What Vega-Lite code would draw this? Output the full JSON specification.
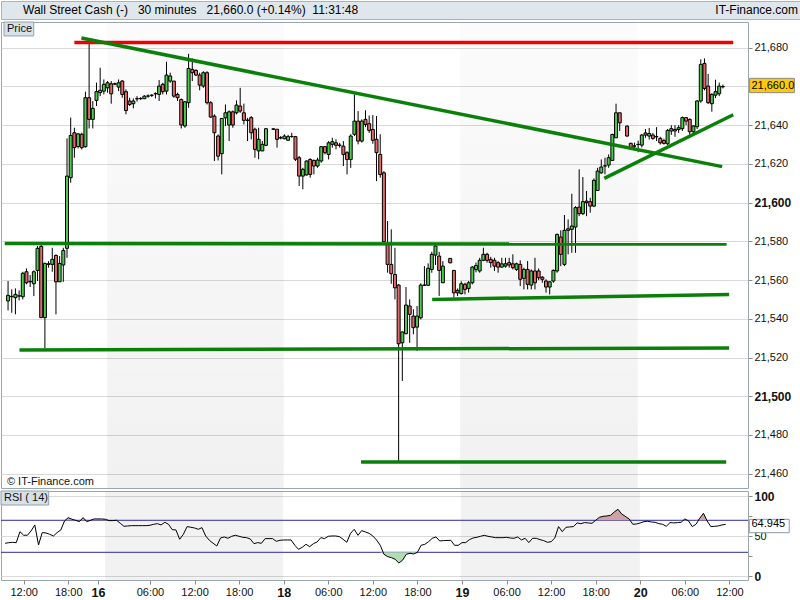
{
  "$schema": "https://vega.github.io/schema/vega-lite/v6.json",
  "padding": 0,
  "background": "white",
  "spacing": 3,
  "bounds": "flush",
  "resolve": {"scale": {"x": "independent", "y": "independent", "color": "independent", "fill": "independent"}},
  "config": {
    "font": "Liberation Sans",
    "view": {"stroke": "#9aa6b0"},
    "bar": {"continuousBandSize": 3},
    "axis": {"labelFont": "Liberation Sans", "labelColor": "#111111", "tickColor": "#8c8c8c", "domain": false, "title": null}
  },
  "datasets": {
    "bars": [
      {"bar":0,"open":21549.2,"high":21559.5,"low":21544.3,"close":21552.1,"rsi":41.3},
      {"bar":1,"open":21551.6,"high":21555.2,"low":21543.1,"close":21551.4,"rsi":42},
      {"bar":2,"open":21550.9,"high":21555.7,"low":21542.3,"close":21552.6,"rsi":42.5},
      {"bar":3,"open":21551.7,"high":21554.7,"low":21549.5,"close":21551.9,"rsi":42},
      {"bar":4,"open":21551.4,"high":21564.3,"low":21550.0,"close":21563.5,"rsi":55.8},
      {"bar":5,"open":21564.3,"high":21566.0,"low":21557.8,"close":21558.6,"rsi":51.3},
      {"bar":6,"open":21559.1,"high":21562.6,"low":21556.4,"close":21559.3,"rsi":51.3},
      {"bar":7,"open":21558.1,"high":21565.0,"low":21551.7,"close":21564.3,"rsi":56.7},
      {"bar":8,"open":21565.0,"high":21577.6,"low":21559.5,"close":21576.4,"rsi":64.2},
      {"bar":9,"open":21577.4,"high":21578.1,"low":21540.6,"close":21540.6,"rsi":39.2},
      {"bar":10,"open":21540.6,"high":21569.0,"low":21524.6,"close":21568.6,"rsi":54.6},
      {"bar":11,"open":21568.1,"high":21569.8,"low":21566.4,"close":21568.4,"rsi":54.2},
      {"bar":12,"open":21568.1,"high":21576.7,"low":21564.3,"close":21570.7,"rsi":52.5},
      {"bar":13,"open":21572.7,"high":21573.3,"low":21542.3,"close":21559.1,"rsi":50.4},
      {"bar":14,"open":21559.1,"high":21572.4,"low":21559.1,"close":21568.6,"rsi":54.6},
      {"bar":15,"open":21567.8,"high":21576.7,"low":21559.1,"close":21575.3,"rsi":57.9},
      {"bar":16,"open":21576.4,"high":21633.2,"low":21571.5,"close":21613.7,"rsi":69.2},
      {"bar":17,"open":21612.9,"high":21643.9,"low":21610.3,"close":21634.7,"rsi":73.3},
      {"bar":18,"open":21636.1,"high":21638.7,"low":21623.2,"close":21628.4,"rsi":71.3},
      {"bar":19,"open":21629.0,"high":21636.0,"low":21628.0,"close":21635.5,"rsi":70},
      {"bar":20,"open":21635.3,"high":21636.1,"low":21627.5,"close":21628.4,"rsi":68.3},
      {"bar":21,"open":21628.9,"high":21657.3,"low":21628.4,"close":21654.2,"rsi":73.3},
      {"bar":22,"open":21654.2,"high":21682.1,"low":21638.3,"close":21643.0,"rsi":68.3},
      {"bar":23,"open":21643.0,"high":21652.5,"low":21638.3,"close":21648.7,"rsi":70},
      {"bar":24,"open":21652.8,"high":21662.0,"low":21649.9,"close":21657.3,"rsi":71.7},
      {"bar":25,"open":21656.8,"high":21669.7,"low":21655.0,"close":21658.0,"rsi":71.7},
      {"bar":26,"open":21657.6,"high":21663.6,"low":21655.9,"close":21661.1,"rsi":71.7},
      {"bar":27,"open":21659.3,"high":21662.8,"low":21656.8,"close":21661.9,"rsi":71.3},
      {"bar":28,"open":21661.4,"high":21662.8,"low":21651.1,"close":21656.2,"rsi":69.6},
      {"bar":29,"open":21661.4,"high":21662.0,"low":21660.6,"close":21661.2,"rsi":69.6},
      {"bar":30,"open":21659.7,"high":21663.6,"low":21657.6,"close":21661.9,"rsi":70},
      {"bar":31,"open":21662.8,"high":21663.3,"low":21654.2,"close":21655.9,"rsi":66.3},
      {"bar":32,"open":21657.3,"high":21658.5,"low":21645.6,"close":21647.6,"rsi":62.5},
      {"bar":33,"open":21652.5,"high":21654.2,"low":21649.9,"close":21650.7,"rsi":62.9},
      {"bar":34,"open":21651.1,"high":21653.8,"low":21648.7,"close":21652.5,"rsi":63.3},
      {"bar":35,"open":21653.6,"high":21655.0,"low":21652.2,"close":21653.7,"rsi":63.3},
      {"bar":36,"open":21653.7,"high":21654.5,"low":21653.0,"close":21653.8,"rsi":63.3},
      {"bar":37,"open":21653.7,"high":21655.5,"low":21653.5,"close":21655.0,"rsi":63.3},
      {"bar":38,"open":21655.0,"high":21655.9,"low":21654.2,"close":21655.1,"rsi":63.3},
      {"bar":39,"open":21655.4,"high":21656.0,"low":21654.6,"close":21655.5,"rsi":63.8},
      {"bar":40,"open":21656.2,"high":21657.0,"low":21653.8,"close":21656.3,"rsi":65},
      {"bar":41,"open":21655.9,"high":21663.3,"low":21652.5,"close":21660.2,"rsi":65.8},
      {"bar":42,"open":21661.1,"high":21661.9,"low":21655.9,"close":21657.3,"rsi":64.2},
      {"bar":43,"open":21657.6,"high":21672.8,"low":21655.9,"close":21665.9,"rsi":67.5},
      {"bar":44,"open":21662.8,"high":21667.1,"low":21661.9,"close":21665.4,"rsi":65},
      {"bar":45,"open":21662.8,"high":21662.8,"low":21654.2,"close":21655.0,"rsi":58.3},
      {"bar":46,"open":21655.9,"high":21656.8,"low":21652.5,"close":21654.2,"rsi":57.9},
      {"bar":47,"open":21653.3,"high":21653.7,"low":21638.3,"close":21640.1,"rsi":46.3},
      {"bar":48,"open":21639.6,"high":21652.5,"low":21638.7,"close":21652.1,"rsi":52.5},
      {"bar":49,"open":21651.6,"high":21676.9,"low":21649.0,"close":21669.3,"rsi":62.1},
      {"bar":50,"open":21668.8,"high":21674.5,"low":21662.8,"close":21667.1,"rsi":61.3},
      {"bar":51,"open":21668.3,"high":21668.8,"low":21665.4,"close":21665.9,"rsi":60.4},
      {"bar":52,"open":21665.9,"high":21667.1,"low":21658.0,"close":21660.7,"rsi":58.75},
      {"bar":53,"open":21660.2,"high":21667.9,"low":21659.3,"close":21667.1,"rsi":60.8},
      {"bar":54,"open":21667.1,"high":21667.9,"low":21650.7,"close":21651.6,"rsi":50.4},
      {"bar":55,"open":21651.6,"high":21652.4,"low":21643.8,"close":21644.2,"rsi":45},
      {"bar":56,"open":21644.7,"high":21645.6,"low":21621.5,"close":21636.1,"rsi":41.3},
      {"bar":57,"open":21634.4,"high":21635.2,"low":21621.8,"close":21624.0,"rsi":37.9},
      {"bar":58,"open":21625.3,"high":21643.5,"low":21614.6,"close":21643.5,"rsi":47.9},
      {"bar":59,"open":21643.8,"high":21650.7,"low":21639.5,"close":21646.4,"rsi":49.2},
      {"bar":60,"open":21640.1,"high":21647.6,"low":21631.8,"close":21646.9,"rsi":47.5},
      {"bar":61,"open":21646.9,"high":21647.6,"low":21638.7,"close":21640.1,"rsi":50},
      {"bar":62,"open":21646.4,"high":21652.8,"low":21645.6,"close":21650.4,"rsi":51.3},
      {"bar":63,"open":21649.9,"high":21659.3,"low":21646.4,"close":21647.3,"rsi":50},
      {"bar":64,"open":21646.4,"high":21651.1,"low":21640.4,"close":21642.5,"rsi":48.75},
      {"bar":65,"open":21642.5,"high":21643.8,"low":21631.8,"close":21642.6,"rsi":48.3},
      {"bar":66,"open":21643.9,"high":21644.7,"low":21632.7,"close":21636.1,"rsi":46.7},
      {"bar":67,"open":21637.9,"high":21638.7,"low":21623.2,"close":21627.5,"rsi":40.8},
      {"bar":68,"open":21626.7,"high":21638.7,"low":21622.4,"close":21632.7,"rsi":42.1},
      {"bar":69,"open":21626.7,"high":21631.8,"low":21626.7,"close":21630.1,"rsi":41.25},
      {"bar":70,"open":21629.6,"high":21638.2,"low":21629.2,"close":21638.2,"rsi":47.1},
      {"bar":72,"open":21638.1,"high":21638.5,"low":21637.6,"close":21637.9,"rsi":47.1},
      {"bar":73,"open":21637.9,"high":21637.9,"low":21628.4,"close":21632.7,"rsi":43.75},
      {"bar":74,"open":21633.5,"high":21634.4,"low":21632.7,"close":21633.4,"rsi":45},
      {"bar":75,"open":21633.0,"high":21635.3,"low":21632.7,"close":21634.4,"rsi":45.4},
      {"bar":76,"open":21632.2,"high":21635.0,"low":21632.0,"close":21634.1,"rsi":45.4},
      {"bar":77,"open":21634.1,"high":21636.1,"low":21633.5,"close":21634.2,"rsi":45.4},
      {"bar":78,"open":21634.1,"high":21634.4,"low":21621.5,"close":21622.4,"rsi":38.75},
      {"bar":79,"open":21623.2,"high":21624.1,"low":21608.6,"close":21613.7,"rsi":33.75},
      {"bar":80,"open":21613.7,"high":21618.0,"low":21606.9,"close":21617.2,"rsi":36.25},
      {"bar":81,"open":21614.3,"high":21621.8,"low":21614.0,"close":21621.5,"rsi":40},
      {"bar":82,"open":21622.3,"high":21622.9,"low":21612.9,"close":21614.6,"rsi":37.1},
      {"bar":83,"open":21621.8,"high":21622.3,"low":21614.6,"close":21618.9,"rsi":40.8},
      {"bar":84,"open":21618.9,"high":21623.2,"low":21618.0,"close":21622.0,"rsi":42.9},
      {"bar":85,"open":21621.5,"high":21629.2,"low":21620.6,"close":21628.9,"rsi":48.3},
      {"bar":86,"open":21628.9,"high":21629.2,"low":21624.9,"close":21625.8,"rsi":47.1},
      {"bar":87,"open":21624.9,"high":21631.8,"low":21622.3,"close":21630.9,"rsi":50},
      {"bar":88,"open":21630.1,"high":21633.5,"low":21628.4,"close":21631.5,"rsi":50.4},
      {"bar":89,"open":21630.9,"high":21632.7,"low":21627.5,"close":21629.6,"rsi":50.4},
      {"bar":90,"open":21629.6,"high":21630.9,"low":21628.4,"close":21629.7,"rsi":49.6},
      {"bar":91,"open":21629.2,"high":21631.8,"low":21618.9,"close":21624.9,"rsi":46.25},
      {"bar":92,"open":21625.8,"high":21626.6,"low":21614.6,"close":21622.3,"rsi":42.5},
      {"bar":93,"open":21622.3,"high":21635.3,"low":21618.0,"close":21634.4,"rsi":53.75},
      {"bar":94,"open":21635.3,"high":21655.9,"low":21634.4,"close":21642.1,"rsi":58.75},
      {"bar":95,"open":21642.1,"high":21647.3,"low":21630.1,"close":21631.8,"rsi":51.25},
      {"bar":96,"open":21631.8,"high":21643.0,"low":21631.0,"close":21642.1,"rsi":57.1},
      {"bar":97,"open":21643.0,"high":21647.7,"low":21639.0,"close":21640.4,"rsi":55.4},
      {"bar":98,"open":21640.8,"high":21645.0,"low":21636.0,"close":21637.3,"rsi":53.75},
      {"bar":99,"open":21637.8,"high":21645.2,"low":21630.4,"close":21632.2,"rsi":50.4},
      {"bar":100,"open":21632.7,"high":21644.7,"low":21611.1,"close":21625.8,"rsi":45.4},
      {"bar":101,"open":21624.9,"high":21635.3,"low":21612.9,"close":21614.5,"rsi":38.75},
      {"bar":102,"open":21615.4,"high":21616.3,"low":21579.5,"close":21579.8,"rsi":27.5},
      {"bar":103,"open":21578.8,"high":21590.5,"low":21563.8,"close":21568.1,"rsi":24.6},
      {"bar":104,"open":21568.1,"high":21586.2,"low":21558.1,"close":21563.3,"rsi":23.3},
      {"bar":105,"open":21562.9,"high":21576.7,"low":21550.0,"close":21556.0,"rsi":21.25},
      {"bar":106,"open":21557.4,"high":21558.0,"low":21465.6,"close":21527.1,"rsi":16.7},
      {"bar":107,"open":21527.6,"high":21533.5,"low":21507.9,"close":21533.2,"rsi":20},
      {"bar":108,"open":21532.3,"high":21556.4,"low":21532.0,"close":21547.1,"rsi":27.5},
      {"bar":109,"open":21546.6,"high":21550.0,"low":21527.6,"close":21542.3,"rsi":28.75},
      {"bar":110,"open":21541.4,"high":21544.9,"low":21532.0,"close":21535.4,"rsi":27.9},
      {"bar":111,"open":21535.7,"high":21546.6,"low":21523.4,"close":21541.4,"rsi":30},
      {"bar":112,"open":21540.5,"high":21558.3,"low":21539.7,"close":21557.4,"rsi":38.75},
      {"bar":113,"open":21557.3,"high":21567.2,"low":21556.9,"close":21557.4,"rsi":40},
      {"bar":114,"open":21557.3,"high":21568.6,"low":21556.9,"close":21566.1,"rsi":43.3},
      {"bar":115,"open":21565.5,"high":21574.6,"low":21563.8,"close":21573.3,"rsi":47.5},
      {"bar":116,"open":21572.9,"high":21578.1,"low":21567.8,"close":21577.6,"rsi":49.2},
      {"bar":117,"open":21572.4,"high":21574.6,"low":21551.8,"close":21565.0,"rsi":44.2},
      {"bar":118,"open":21558.6,"high":21569.8,"low":21558.6,"close":21567.2,"rsi":44.6},
      {"bar":120,"open":21571.2,"high":21571.4,"low":21568.7,"close":21568.9,"rsi":45},
      {"bar":121,"open":21565.0,"high":21565.0,"low":21551.0,"close":21553.4,"rsi":38.75},
      {"bar":122,"open":21554.7,"high":21555.7,"low":21551.7,"close":21553.4,"rsi":38.75},
      {"bar":123,"open":21553.0,"high":21559.4,"low":21552.6,"close":21558.1,"rsi":42.1},
      {"bar":124,"open":21557.8,"high":21558.6,"low":21552.6,"close":21555.2,"rsi":42.1},
      {"bar":125,"open":21555.7,"high":21559.5,"low":21553.5,"close":21558.6,"rsi":45.8},
      {"bar":126,"open":21558.6,"high":21567.2,"low":21557.8,"close":21566.7,"rsi":47.9},
      {"bar":127,"open":21565.5,"high":21569.0,"low":21564.0,"close":21567.5,"rsi":48.75},
      {"bar":128,"open":21564.7,"high":21571.5,"low":21563.8,"close":21570.2,"rsi":50},
      {"bar":129,"open":21570.2,"high":21576.7,"low":21569.8,"close":21573.3,"rsi":51.25},
      {"bar":130,"open":21573.3,"high":21574.1,"low":21569.0,"close":21570.2,"rsi":50},
      {"bar":131,"open":21570.7,"high":21572.0,"low":21566.4,"close":21569.0,"rsi":49.2},
      {"bar":132,"open":21570.2,"high":21571.5,"low":21564.7,"close":21567.2,"rsi":48.3},
      {"bar":133,"open":21569.0,"high":21569.8,"low":21563.8,"close":21566.7,"rsi":48.3},
      {"bar":134,"open":21566.7,"high":21571.5,"low":21566.4,"close":21568.4,"rsi":48.3},
      {"bar":135,"open":21567.2,"high":21571.5,"low":21566.4,"close":21568.4,"rsi":48.75},
      {"bar":136,"open":21569.0,"high":21571.5,"low":21566.4,"close":21567.8,"rsi":47.9},
      {"bar":137,"open":21568.4,"high":21573.3,"low":21565.5,"close":21566.4,"rsi":47.5},
      {"bar":138,"open":21565.5,"high":21569.0,"low":21564.7,"close":21568.4,"rsi":49.2},
      {"bar":139,"open":21568.1,"high":21570.2,"low":21556.9,"close":21560.4,"rsi":45.4},
      {"bar":140,"open":21560.9,"high":21566.4,"low":21555.2,"close":21565.5,"rsi":47.5},
      {"bar":141,"open":21565.5,"high":21569.8,"low":21555.2,"close":21557.8,"rsi":42.1},
      {"bar":142,"open":21557.4,"high":21565.5,"low":21555.2,"close":21564.7,"rsi":47.5},
      {"bar":143,"open":21564.7,"high":21571.5,"low":21555.2,"close":21558.6,"rsi":47.5},
      {"bar":144,"open":21564.7,"high":21566.0,"low":21560.0,"close":21561.2,"rsi":45.8},
      {"bar":145,"open":21561.5,"high":21562.0,"low":21558.6,"close":21560.4,"rsi":44.6},
      {"bar":146,"open":21559.5,"high":21560.4,"low":21553.5,"close":21556.4,"rsi":42.5},
      {"bar":147,"open":21556.4,"high":21559.5,"low":21552.6,"close":21559.1,"rsi":43.3},
      {"bar":148,"open":21559.5,"high":21565.5,"low":21558.6,"close":21565.0,"rsi":47.9},
      {"bar":149,"open":21564.7,"high":21584.0,"low":21563.8,"close":21583.6,"rsi":62.1},
      {"bar":150,"open":21582.2,"high":21585.7,"low":21567.2,"close":21573.3,"rsi":55.8},
      {"bar":151,"open":21568.1,"high":21593.6,"low":21567.2,"close":21585.7,"rsi":61.25},
      {"bar":152,"open":21585.7,"high":21591.3,"low":21573.3,"close":21586.5,"rsi":61.7},
      {"bar":153,"open":21586.2,"high":21604.6,"low":21574.1,"close":21587.9,"rsi":62.1},
      {"bar":154,"open":21587.4,"high":21598.2,"low":21574.1,"close":21597.4,"rsi":66.7},
      {"bar":155,"open":21597.7,"high":21617.2,"low":21593.0,"close":21594.3,"rsi":65.8},
      {"bar":156,"open":21594.3,"high":21613.2,"low":21593.6,"close":21600.5,"rsi":67.1},
      {"bar":157,"open":21600.0,"high":21606.0,"low":21593.0,"close":21600.8,"rsi":66.7},
      {"bar":158,"open":21600.5,"high":21602.5,"low":21594.8,"close":21598.2,"rsi":66.25},
      {"bar":159,"open":21598.2,"high":21612.5,"low":21597.7,"close":21611.5,"rsi":70},
      {"bar":160,"open":21606.3,"high":21618.0,"low":21606.0,"close":21616.3,"rsi":73.75},
      {"bar":161,"open":21615.4,"high":21622.3,"low":21614.9,"close":21618.4,"rsi":75},
      {"bar":162,"open":21618.9,"high":21623.2,"low":21614.6,"close":21619.0,"rsi":75.4},
      {"bar":163,"open":21619.4,"high":21624.9,"low":21618.0,"close":21623.2,"rsi":76.25},
      {"bar":164,"open":21621.8,"high":21635.6,"low":21621.5,"close":21635.2,"rsi":80.4},
      {"bar":165,"open":21633.5,"high":21651.1,"low":21633.5,"close":21646.4,"rsi":83.75},
      {"bar":166,"open":21646.4,"high":21646.4,"low":21637.0,"close":21641.2,"rsi":77.9},
      {"bar":168,"open":21639.5,"high":21640.0,"low":21634.0,"close":21634.4,"rsi":71.7},
      {"bar":169,"open":21630.6,"high":21631.0,"low":21628.0,"close":21628.3,"rsi":65},
      {"bar":170,"open":21629.2,"high":21631.0,"low":21627.0,"close":21629.3,"rsi":65.4},
      {"bar":171,"open":21630.0,"high":21632.0,"low":21626.0,"close":21630.1,"rsi":66.7},
      {"bar":172,"open":21629.7,"high":21635.5,"low":21628.5,"close":21634.9,"rsi":68.3},
      {"bar":173,"open":21636.0,"high":21638.0,"low":21633.5,"close":21634.9,"rsi":68.75},
      {"bar":174,"open":21634.4,"high":21638.6,"low":21632.6,"close":21635.7,"rsi":67.9},
      {"bar":175,"open":21634.9,"high":21636.0,"low":21632.5,"close":21633.2,"rsi":67.5},
      {"bar":176,"open":21634.0,"high":21639.0,"low":21631.8,"close":21634.1,"rsi":65.8},
      {"bar":177,"open":21633.2,"high":21634.0,"low":21630.0,"close":21630.9,"rsi":65},
      {"bar":178,"open":21632.1,"high":21633.0,"low":21630.0,"close":21630.6,"rsi":62.5},
      {"bar":179,"open":21630.4,"high":21638.0,"low":21629.8,"close":21637.3,"rsi":67.1},
      {"bar":180,"open":21637.0,"high":21640.0,"low":21635.0,"close":21638.2,"rsi":66.7},
      {"bar":181,"open":21637.8,"high":21640.0,"low":21634.0,"close":21637.0,"rsi":67.1},
      {"bar":182,"open":21637.8,"high":21640.0,"low":21636.0,"close":21638.7,"rsi":67.5},
      {"bar":183,"open":21638.2,"high":21644.5,"low":21637.0,"close":21643.9,"rsi":71.7},
      {"bar":184,"open":21643.9,"high":21644.0,"low":21640.0,"close":21642.1,"rsi":69.2},
      {"bar":185,"open":21643.0,"high":21643.5,"low":21635.0,"close":21636.6,"rsi":62.1},
      {"bar":186,"open":21636.6,"high":21640.0,"low":21636.0,"close":21639.6,"rsi":65},
      {"bar":187,"open":21639.2,"high":21653.0,"low":21638.0,"close":21652.5,"rsi":72.5},
      {"bar":188,"open":21652.5,"high":21674.0,"low":21651.6,"close":21671.4,"rsi":78.75},
      {"bar":189,"open":21671.9,"high":21674.5,"low":21658.0,"close":21659.0,"rsi":69.2},
      {"bar":190,"open":21660.2,"high":21666.5,"low":21651.0,"close":21651.6,"rsi":62.1},
      {"bar":191,"open":21651.1,"high":21656.5,"low":21647.0,"close":21655.9,"rsi":62.5},
      {"bar":192,"open":21655.5,"high":21663.5,"low":21654.0,"close":21657.3,"rsi":62.9},
      {"bar":193,"open":21656.2,"high":21662.0,"low":21655.0,"close":21660.2,"rsi":64.2},
      {"bar":194,"open":21659.8,"high":21661.0,"low":21659.0,"close":21660.0,"rsi":64.945}
    ],
    "sessions": [
      {"day":"16","start":26.9,"end":74.8},
      {"day":"19","start":122.7,"end":170.9}
    ],
    "trendlines": [
      {"kind":"resistance","from_bar":18.0,"from_price":21682.7,"to_bar":196.8,"to_price":21682.7},
      {"kind":"trend","from_bar":19.9,"from_price":21685.0,"to_bar":193.8,"to_price":21618.6},
      {"kind":"trend","from_bar":-0.9,"from_price":21578.9,"to_bar":195.0,"to_price":21578.6},
      {"kind":"trend","from_bar":3.1,"from_price":21523.9,"to_bar":195.7,"to_price":21524.9},
      {"kind":"trend","from_bar":115.1,"from_price":21550.0,"to_bar":195.7,"to_price":21552.6},
      {"kind":"trend","from_bar":95.8,"from_price":21466.0,"to_bar":194.9,"to_price":21466.0},
      {"kind":"trend","from_bar":161.8,"from_price":21612.5,"to_bar":196.8,"to_price":21645.4}
    ],
    "levels": [{"level":70},{"level":30}],
    "labels": [{"last_close":21660.0,"last_rsi":64.945}]
  },
  "vconcat": [
    {
      "width": 800,
      "height": 18,
      "view": {"fill": "#dfe6ec", "stroke": "#a9b5be"},
      "data": {"values": [{"label": "Wall Street Cash (-)\u00a0\u00a0 30 minutes\u00a0\u00a0 21,660.0 (+0.14%)\u00a0 11:31:48", "site": "IT-Finance.com"}]},
      "layer": [
        {
          "mark": {"type": "text", "align": "left", "baseline": "middle", "dx": 22, "fontSize": 12, "color": "#000000"},
          "encoding": {
            "x": {"datum": 0, "type": "quantitative", "scale": {"domain": [0, 1]}, "axis": null},
            "text": {"field": "label"}
          }
        },
        {
          "mark": {"type": "text", "align": "right", "baseline": "middle", "dx": -3, "fontSize": 12, "color": "#000000"},
          "encoding": {
            "x": {"datum": 1, "type": "quantitative", "axis": null},
            "text": {"field": "site"}
          }
        }
      ]
    },
    {
      "width": 747,
      "height": 466,
      "view": {"fill": "white", "stroke": "#9aa6b0"},
      "layer": [
        {
          "data": {"name": "sessions"},
          "mark": {"type": "rect", "fill": {"gradient": "linear", "x1": 0, "y1": 0, "x2": 0, "y2": 1, "stops": [{"offset": 0, "color": "rgba(0,0,0,0.015)"}, {"offset": 1, "color": "rgba(0,0,0,0.055)"}]}},
          "encoding": {
            "x": {"field": "start", "type": "quantitative", "scale": {"domain": [-1.1, 200], "nice": false, "zero": false}, "axis": null},
            "x2": {"field": "end"}
          }
        },
        {
          "data": {"name": "bars"},
          "mark": {"type": "rule", "color": "#000000", "strokeWidth": 1},
          "encoding": {
            "x": {"field": "bar", "type": "quantitative", "axis": null},
            "y": {
              "field": "low", "type": "quantitative",
              "scale": {"domain": [21452.6, 21693.3], "nice": false, "zero": false},
              "axis": {
                "orient": "right",
                "values": [21460,21470,21480,21490,21500,21510,21520,21530,21540,21550,21560,21570,21580,21590,21600,21610,21620,21630,21640,21650,21660,21670,21680,21690],
                "labelExpr": "datum.value % 20 == 0 && datum.value != 21660 ? format(datum.value, ',') : ''",
                "labelFontSize": {"condition": {"test": "datum.value % 100 == 0", "value": 12}, "value": 11},
                "labelFontWeight": {"condition": {"test": "datum.value % 100 == 0", "value": "bold"}, "value": "normal"},
                "grid": true,
                "gridColor": "#d9d9d9",
                "gridOpacity": {"condition": {"test": "datum.value % 20 != 0", "value": 0}, "value": 1},
                "tickSize": 4,
                "labelPadding": 2,
                "labelOverlap": false
              }
            },
            "y2": {"field": "high"}
          }
        },
        {
          "data": {"name": "bars"},
          "mark": {"type": "bar", "stroke": "#000000", "strokeWidth": 1},
          "encoding": {
            "x": {"field": "bar", "type": "quantitative", "axis": null},
            "y": {"field": "open", "type": "quantitative"},
            "y2": {"field": "close"},
            "fill": {"condition": {"test": "datum.close >= datum.open", "value": "#4fca4f"}, "value": "#e26a6a"}
          }
        },
        {
          "data": {"name": "trendlines"},
          "mark": {"type": "rule", "strokeWidth": 3.5, "strokeCap": "butt"},
          "encoding": {
            "x": {"field": "from_bar", "type": "quantitative", "axis": null},
            "x2": {"field": "to_bar"},
            "y": {"field": "from_price", "type": "quantitative"},
            "y2": {"field": "to_price"},
            "color": {"field": "kind", "type": "nominal", "scale": {"domain": ["resistance", "trend"], "range": ["#f20000", "#0a800a"]}, "legend": null}
          }
        },
        {
          "data": {"name": "labels"},
          "mark": {"type": "rect", "fill": "#d7e0e7", "stroke": "#93a3ae", "strokeWidth": 1, "clip": false},
          "encoding": {
            "x": {"datum": -1.1, "type": "quantitative", "axis": null},
            "x2": {"datum": 6.98},
            "y": {"datum": 21693.3, "type": "quantitative"},
            "y2": {"datum": 21686.1}
          }
        },
        {
          "data": {"name": "labels"},
          "mark": {"type": "text", "align": "left", "baseline": "middle", "fontSize": 11, "color": "#111111", "clip": false},
          "encoding": {
            "x": {"datum": -0.3, "type": "quantitative", "axis": null},
            "y": {"datum": 21689.7, "type": "quantitative"},
            "text": {"value": "Price"}
          }
        },
        {
          "data": {"name": "labels"},
          "mark": {"type": "text", "align": "left", "baseline": "middle", "fontSize": 11, "color": "#111111", "clip": false},
          "encoding": {
            "x": {"datum": -0.3, "type": "quantitative", "axis": null},
            "y": {"datum": 21455.7, "type": "quantitative"},
            "text": {"value": "\u00a9 IT-Finance.com"}
          }
        },
        {
          "data": {"name": "labels"},
          "mark": {"type": "rect", "fill": "#fdca0a", "stroke": "#8a8a8a", "strokeWidth": 1, "clip": false},
          "encoding": {
            "x": {"datum": 201.26, "type": "quantitative", "axis": null},
            "x2": {"datum": 213.4},
            "y": {"datum": 21664.2, "type": "quantitative"},
            "y2": {"datum": 21656.8}
          }
        },
        {
          "data": {"name": "labels"},
          "mark": {"type": "text", "align": "left", "baseline": "middle", "fontSize": 11, "color": "#000000", "clip": false},
          "encoding": {
            "x": {"datum": 201.75, "type": "quantitative", "axis": null},
            "y": {"field": "last_close", "type": "quantitative"},
            "text": {"field": "last_close", "type": "quantitative", "format": ",.1f"}
          }
        }
      ]
    },
    {
      "width": 747,
      "height": 89,
      "view": {"fill": "white", "stroke": "#9aa6b0"},
      "resolve": {"scale": {"y": "independent"}},
      "layer": [
        {
          "data": {"name": "sessions"},
          "mark": {"type": "rect", "fill": "rgba(0,0,0,0.05)"},
          "encoding": {
            "x": {"field": "start", "type": "quantitative", "scale": {"domain": [-1.1, 200], "nice": false, "zero": false}},
            "x2": {"field": "end"}
          }
        },
        {
          "data": {"name": "levels"},
          "mark": {"type": "rule", "color": "#2a2aa6", "strokeWidth": 1},
          "encoding": {
            "y": {
              "field": "level", "type": "quantitative",
              "scale": {"domain": [-4.6, 106.6], "nice": false, "zero": false},
              "axis": {
                "orient": "right",
                "values": [0, 25, 50, 75, 100],
                "labelExpr": "datum.value % 50 == 0 ? datum.label : ''",
                "labelFontSize": {"condition": {"test": "datum.value != 50", "value": 12}, "value": 11},
                "labelFontWeight": {"condition": {"test": "datum.value != 50", "value": "bold"}, "value": "normal"},
                "grid": true,
                "gridColor": "#d9d9d9",
                "gridOpacity": {"condition": {"test": "datum.value % 50 != 0", "value": 0}, "value": 1},
                "tickSize": 4,
                "labelPadding": 2,
                "labelOverlap": false
              }
            }
          }
        },
        {
          "data": {"name": "bars"},
          "mark": {"type": "area", "color": "#cfa3a3", "opacity": 1},
          "encoding": {
            "x": {"field": "bar", "type": "quantitative"},
            "y": {"field": "rsi", "type": "quantitative", "scale": {"domain": [70, 106.6], "range": [29.28, 0], "clamp": true, "nice": false, "zero": false}, "axis": null},
            "y2": {"datum": 70}
          }
        },
        {
          "data": {"name": "bars"},
          "mark": {"type": "area", "color": "#b2dcb2", "opacity": 1},
          "encoding": {
            "x": {"field": "bar", "type": "quantitative"},
            "y": {"field": "rsi", "type": "quantitative", "scale": {"domain": [-4.6, 30], "range": [89, 61.28], "clamp": true, "nice": false, "zero": false}, "axis": null},
            "y2": {"datum": 30}
          }
        },
        {
          "data": {"name": "bars"},
          "mark": {"type": "line", "color": "#000000", "strokeWidth": 1},
          "encoding": {
            "x": {
              "field": "bar", "type": "quantitative",
              "axis": {
                "orient": "bottom",
                "values": [5,17,25,39,51,63,75,87,99,111,123,135,147,159,171,183,195],
                "labelExpr": "['12:00','18:00','16','06:00','12:00','18:00','18','06:00','12:00','18:00','19','06:00','12:00','18:00','20','06:00','12:00'][indexof([5,17,25,39,51,63,75,87,99,111,123,135,147,159,171,183,195], datum.value)]",
                "labelFontSize": {"condition": {"test": "indexof([25,75,123,171], datum.value) >= 0", "value": 12.5}, "value": 11},
                "labelFontWeight": {"condition": {"test": "indexof([25,75,123,171], datum.value) >= 0", "value": "bold"}, "value": "normal"},
                "grid": false,
                "tickSize": 4,
                "labelPadding": 2,
                "labelOverlap": false,
                "labelFlush": false
              }
            },
            "y": {"field": "rsi", "type": "quantitative", "scale": {"domain": [-4.6, 106.6], "nice": false, "zero": false}, "axis": null}
          }
        },
        {
          "data": {"name": "labels"},
          "mark": {"type": "rect", "fill": "#d7e0e7", "stroke": "#93a3ae", "strokeWidth": 1, "clip": false},
          "encoding": {
            "x": {"datum": -1.1, "type": "quantitative"},
            "x2": {"datum": 11.74},
            "y": {"datum": 106.6, "type": "quantitative", "scale": {"domain": [-4.6, 106.6], "nice": false, "zero": false}, "axis": null},
            "y2": {"datum": 89.1}
          }
        },
        {
          "data": {"name": "labels"},
          "mark": {"type": "text", "align": "left", "baseline": "middle", "fontSize": 11, "color": "#111111", "clip": false},
          "encoding": {
            "x": {"datum": -0.3, "type": "quantitative"},
            "y": {"datum": 97.6, "type": "quantitative", "scale": {"domain": [-4.6, 106.6], "nice": false, "zero": false}, "axis": null},
            "text": {"value": "RSI ( 14)"}
          }
        },
        {
          "data": {"name": "labels"},
          "mark": {"type": "rect", "fill": "white", "stroke": "#8b9aa6", "strokeWidth": 1, "clip": false},
          "encoding": {
            "x": {"datum": 200.35, "type": "quantitative"},
            "x2": {"datum": 211.1},
            "y": {"datum": 71.2, "type": "quantitative", "scale": {"domain": [-4.6, 106.6], "nice": false, "zero": false}, "axis": null},
            "y2": {"datum": 54.5}
          }
        },
        {
          "data": {"name": "labels"},
          "mark": {"type": "text", "align": "left", "baseline": "middle", "fontSize": 11, "color": "#000000", "clip": false},
          "encoding": {
            "x": {"datum": 200.94, "type": "quantitative"},
            "y": {"field": "last_rsi", "type": "quantitative", "scale": {"domain": [-4.6, 106.6], "nice": false, "zero": false}, "axis": null},
            "text": {"field": "last_rsi", "type": "quantitative", "format": ".3f"}
          }
        }
      ]
    }
  ]
}
